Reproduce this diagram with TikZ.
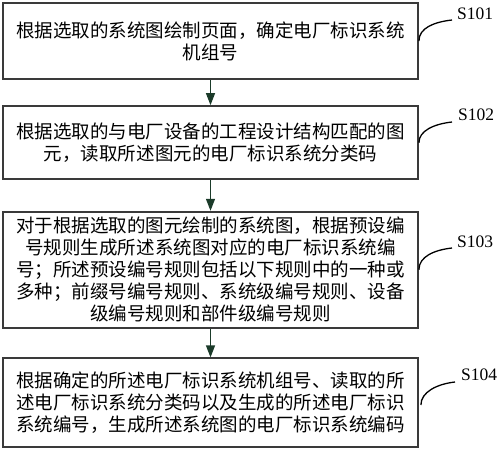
\documentclass[tikz,border=0pt]{standalone}
\usepackage{fontspec}
\setmainfont{Liberation Serif}
\newfontfamily\cjk{Noto Sans CJK SC}
\usetikzlibrary{arrows.meta,calc}
\definecolor{boxgray}{HTML}{3A3A3A}
\definecolor{arrgreen}{HTML}{1B3B2A}
\tikzset{
  stepbox/.style={draw=boxgray, line width=1.8pt, rectangle, inner sep=0pt,
    minimum width=415pt, align=center, text=black,
    font=\cjk\fontsize{18.5pt}{22pt}\selectfont},
  flowarr/.style={draw=arrgreen, line width=1.2pt,
    -{Triangle[length=12pt,width=9pt]}},
  leadline/.style={draw=black, line width=1.3pt},
  steplabel/.style={anchor=west, inner sep=0pt, text=black,
    font=\fontsize{17.5pt}{20pt}\selectfont}
}
\begin{document}
\begin{tikzpicture}[x=1pt,y=-1pt]
\useasboundingbox (0,0) rectangle (500,450);
\node[stepbox, minimum height=76pt] (b1) at (210.5,41)
  {根据选取的系统图绘制页面，确定电厂标识系统\\机组号};
\node[stepbox, minimum height=73.3pt] (b2) at (210.5,142.7)
  {根据选取的与电厂设备的工程设计结构匹配的图\\元，读取所述图元的电厂标识系统分类码};
\node[stepbox, minimum height=116pt] (b3) at (210.5,269.7)
  {对于根据选取的图元绘制的系统图，根据预设编\\号规则生成所述系统图对应的电厂标识系统编\\号；所述预设编号规则包括以下规则中的一种或\\多种；前缀号编号规则、系统级编号规则、设备\\级编号规则和部件级编号规则};
\node[stepbox, minimum height=88.4pt] (b4) at (210.5,402.5)
  {根据确定的所述电厂标识系统机组号、读取的所\\述电厂标识系统分类码以及生成的所述电厂标识\\系统编号，生成所述系统图的电厂标识系统编码};

\draw[flowarr] (b1.south) -- (b2.north);
\draw[flowarr] (b2.south) -- (b3.north);
\draw[flowarr] (b3.south) -- (b4.north);

\node[steplabel] (l1) at (457,13.3) {S101};
\node[steplabel] (l2) at (458,115) {S102};
\node[steplabel] (l3) at (457,241.7) {S103};
\node[steplabel] (l4) at (461,375) {S104};

\coordinate (c1) at (452,20);
\coordinate (c2) at (452,122);
\coordinate (c3) at (452,248);
\coordinate (c4) at (455,382);
\coordinate (s4) at ($(b4.east)+(2,2.5)$);

\draw[leadline] (b1.east) .. controls +(0,-13) and +(-18,2) .. (c1);
\draw[leadline] (b2.east) .. controls +(0,-12) and +(-18,2) .. (c2);
\draw[leadline] (b3.east) .. controls +(0,-13) and +(-18,2) .. (c3);
\draw[leadline] (s4) .. controls +(0,-13) and +(-18,2) .. (c4);
\end{tikzpicture}
\end{document}
